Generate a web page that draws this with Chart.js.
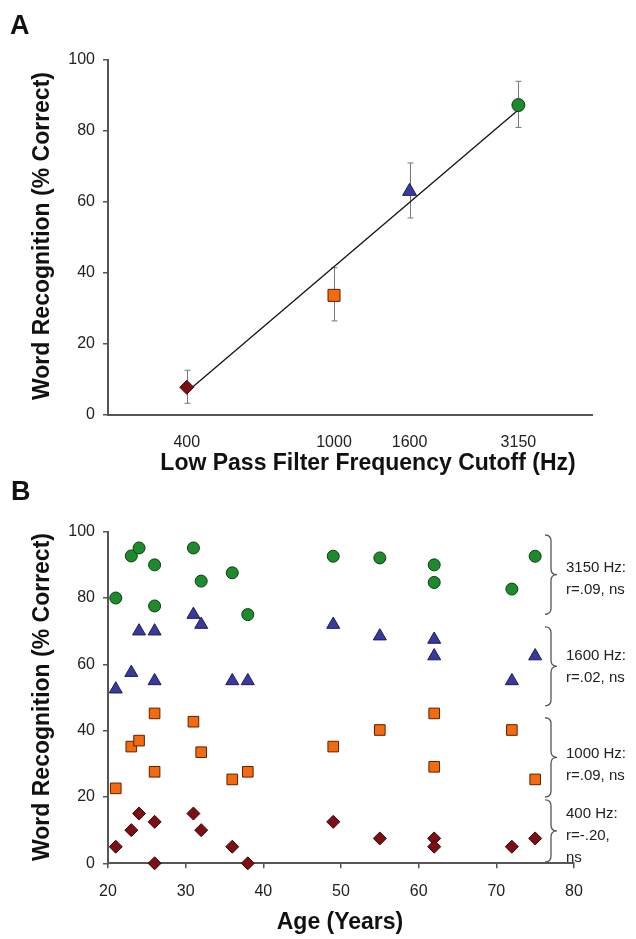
<!DOCTYPE html>
<html>
<head>
<meta charset="utf-8">
<script src="https://cdn.jsdelivr.net/npm/chart.js@4.4.1/dist/chart.umd.min.js"></script>
<style>
  body { margin: 0; background: #fff; }
  #page { position: relative; width: 636px; height: 939px; font-family: "Liberation Sans", Arial, sans-serif; color: #111; overflow: hidden; }
  canvas { position: absolute; left: 0; }
  .lbl { position: absolute; white-space: nowrap; }
  .panel { font-weight: bold; font-size: 27px; line-height: 1; }
  .title { font-weight: bold; font-size: 23px; line-height: 1; transform: translate(-50%, -50%); }
  .title.vert { transform: translate(-50%, -50%) rotate(-90deg); }
  .note { font-size: 15px; line-height: 22px; color: #222; }
</style>
</head>
<body>
<div id="page">
  <canvas id="chartA" width="636" height="475" style="top:0"></canvas>
  <canvas id="chartB" width="636" height="464" style="top:475px"></canvas>

  <div class="lbl panel" style="left:10px;top:12px">A</div>
  <div class="lbl panel" style="left:11px;top:478px">B</div>

  <div class="lbl title vert" style="left:41px;top:236px">Word Recognition (% Correct)</div>
  <div class="lbl title" style="left:368px;top:462px">Low Pass Filter Frequency Cutoff (Hz)</div>
  <div class="lbl title vert" style="left:41px;top:697px">Word Recognition (% Correct)</div>
  <div class="lbl title" style="left:340px;top:921px">Age (Years)</div>

  <div class="lbl note" style="left:566px;top:556px">3150 Hz:<br>r=.09, ns</div>
  <div class="lbl note" style="left:566px;top:644px">1600 Hz:<br>r=.02, ns</div>
  <div class="lbl note" style="left:566px;top:742px">1000 Hz:<br>r=.09, ns</div>
  <div class="lbl note" style="left:566px;top:802px">400 Hz:<br>r=-.20,<br>ns</div>
</div>

<script>
// panel A: mean score per filter cutoff
const freqs = [400, 1000, 1600, 3150];
const meanScores = [7.8, 33.7, 63, 87.3];
const errLow = [3.3, 26.5, 55.5, 81];
const errHigh = [12.6, 41.5, 71, 94];
const fitEnds = [6.5, 86]; // fitted line at 400 and 3150 Hz

// panel B: each listener's score by age
const ages = [21, 23, 24, 26, 26, 31, 32, 36, 38, 49, 55, 62, 62, 72, 75];
const hz3150 = [80, 92.7, 95.1, 90, 77.6, 95.1, 85.1, 87.6, 75, 92.6, 92.1, 90, 84.7, 82.7, 92.6];
const hz1600 = [52.5, 57.5, 70, 70, 55, 75, 72, 55, 55, 72, 68.5, 67.5, 62.5, 55, 62.5];
const hz1000 = [22.6, 35.2, 37, 45.2, 27.6, 42.7, 33.5, 25.3, 27.6, 35.2, 40.2, 45.2, 29.1, 40.2, 25.3];
const hz400 = [5, 10, 15, 12.5, 0, 15, 10, 5, 0, 12.5, 7.5, 7.5, 5, 5, 7.5];

const yTicks = [0, 20, 40, 60, 80, 100];

const colors = {
  c3150: ['#1e8a2e', '#0b3d12'],
  c1600: ['#3a3a9c', '#1a1a5a'],
  c1000: ['#f5690f', '#5a2200'],
  c400: ['#7d0f14', '#3a0508']
};

const tickFont = { family: 'Liberation Sans', size: 16 };
const axisColor = '#555';

const errorBars = {
  id: 'errorBars',
  beforeDatasetsDraw(chart) {
    const { ctx, scales: { x, y } } = chart;
    ctx.save();
    ctx.strokeStyle = '#777';
    ctx.lineWidth = 1;
    freqs.forEach((f, i) => {
      const px = Math.round(x.getPixelForValue(f)) + 0.5;
      const lo = y.getPixelForValue(errLow[i]);
      const hi = y.getPixelForValue(errHigh[i]);
      ctx.beginPath();
      ctx.moveTo(px, lo); ctx.lineTo(px, hi);
      ctx.moveTo(px - 3, lo); ctx.lineTo(px + 3, lo);
      ctx.moveTo(px - 3, hi); ctx.lineTo(px + 3, hi);
      ctx.stroke();
    });
    ctx.restore();
  }
};

// curly braces on the right of panel B
const braces = {
  id: 'braces',
  afterDraw(chart, args, opts) {
    const { ctx, scales: { y } } = chart;
    const x0 = opts.x, x1 = opts.x + 6, x2 = opts.x + 12, r = 6;
    ctx.save();
    ctx.strokeStyle = '#555';
    ctx.lineWidth = 1.3;
    opts.spans.forEach(([a, b]) => {
      const top = y.getPixelForValue(a), bot = y.getPixelForValue(b);
      const mid = (top + bot) / 2;
      ctx.beginPath();
      ctx.moveTo(x0, top);
      ctx.quadraticCurveTo(x1, top, x1, top + r);
      ctx.lineTo(x1, mid - r);
      ctx.quadraticCurveTo(x1, mid, x2, mid);
      ctx.quadraticCurveTo(x1, mid, x1, mid + r);
      ctx.lineTo(x1, bot - r);
      ctx.quadraticCurveTo(x1, bot, x0, bot);
      ctx.stroke();
    });
    ctx.restore();
  }
};

new Chart(document.getElementById('chartA'), {
  type: 'scatter',
  data: {
    datasets: [{
      data: freqs.map((f, i) => ({ x: f, y: meanScores[i] })),
      pointStyle: ['rectRot', 'rect', 'triangle', 'circle'],
      pointRadius: [7, 8.5, 8, 6.5],
      backgroundColor: [colors.c400[0], colors.c1000[0], colors.c1600[0], colors.c3150[0]],
      borderColor: [colors.c400[1], colors.c1000[1], colors.c1600[1], colors.c3150[1]],
      borderWidth: 1,
      clip: false
    }, {
      data: [{ x: freqs[0], y: fitEnds[0] }, { x: freqs[3], y: fitEnds[1] }],
      showLine: true,
      borderColor: '#111',
      borderWidth: 1.3,
      pointRadius: 0
    }]
  },
  options: {
    responsive: false,
    animation: false,
    layout: { padding: { top: 60, right: 44, left: 0, bottom: 0 } },
    plugins: { legend: { display: false }, tooltip: { enabled: false } },
    scales: {
      x: {
        type: 'logarithmic',
        min: 245,
        max: 4980,
        afterBuildTicks: s => { s.ticks = freqs.map(v => ({ value: v })); },
        afterFit: s => { s.height = 60; },
        grid: { display: false },
        border: { color: axisColor, width: 2 },
        ticks: { callback: v => String(v), autoSkip: false, maxRotation: 0, padding: 10, font: tickFont, color: '#222' }
      },
      y: {
        min: 0,
        max: 100,
        afterBuildTicks: s => { s.ticks = yTicks.map(v => ({ value: v })); },
        afterFit: s => { s.width = 108; },
        grid: { drawOnChartArea: false, tickLength: 5, color: axisColor, lineWidth: 1.5 },
        border: { color: axisColor, width: 2 },
        ticks: { padding: 8, font: tickFont, color: '#222' }
      }
    }
  },
  plugins: [errorBars]
});

function band(values, style, radius, col) {
  return {
    data: ages.map((a, i) => ({ x: a, y: values[i] })),
    pointStyle: style,
    pointRadius: radius,
    backgroundColor: col[0],
    borderColor: col[1],
    borderWidth: 1,
    clip: false
  };
}

new Chart(document.getElementById('chartB'), {
  type: 'scatter',
  data: {
    datasets: [
      band(hz3150, 'circle', 6, colors.c3150),
      band(hz1600, 'triangle', 7.5, colors.c1600),
      band(hz1000, 'rect', 7.5, colors.c1000),
      band(hz400, 'rectRot', 6.5, colors.c400)
    ]
  },
  options: {
    responsive: false,
    animation: false,
    layout: { padding: { top: 56.7, right: 62, left: 0, bottom: 0 } },
    plugins: {
      legend: { display: false },
      tooltip: { enabled: false },
      braces: { x: 545, spans: [[99, 75.1], [71.3, 47.5], [43.9, 20], [19.1, 0.4]] }
    },
    scales: {
      x: {
        type: 'linear',
        min: 20,
        max: 80,
        afterFit: s => { s.height = 75.7; },
        grid: { drawOnChartArea: false, tickLength: 5, color: axisColor, lineWidth: 1.5 },
        border: { color: axisColor, width: 2 },
        ticks: { stepSize: 10, maxRotation: 0, padding: 14, font: tickFont, color: '#222' }
      },
      y: {
        min: 0,
        max: 100,
        afterBuildTicks: s => { s.ticks = yTicks.map(v => ({ value: v })); },
        afterFit: s => { s.width = 108; },
        grid: { drawOnChartArea: false, tickLength: 5, color: axisColor, lineWidth: 1.5 },
        border: { color: axisColor, width: 2 },
        ticks: { padding: 8, font: tickFont, color: '#222' }
      }
    }
  },
  plugins: [braces]
});
</script>
</body>
</html>
